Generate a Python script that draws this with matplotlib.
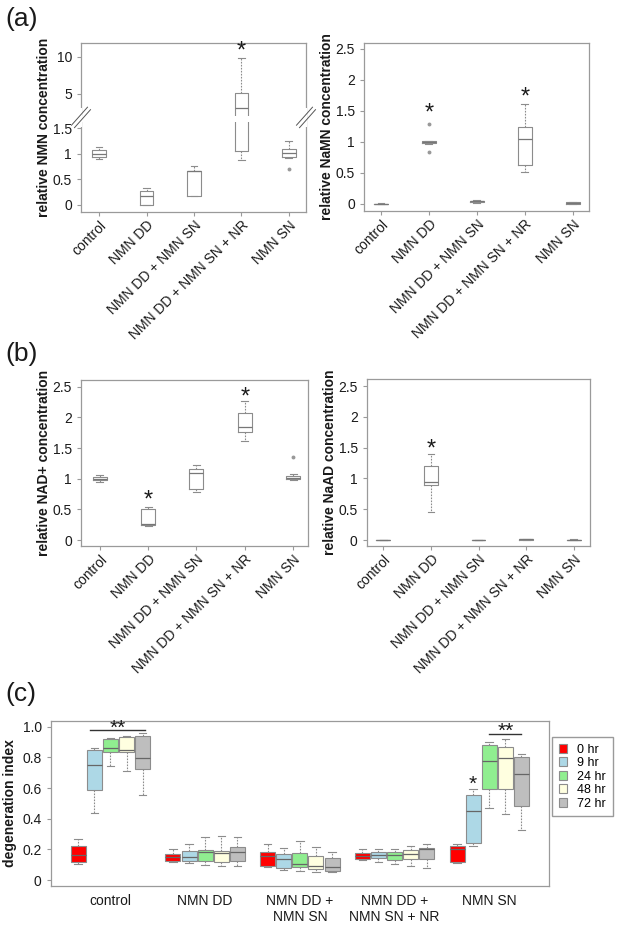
import numpy as np
import matplotlib
matplotlib.use('Agg')
import matplotlib.pyplot as plt
from matplotlib.patches import Patch, Rectangle

plt.rcParams['font.family'] = ['Liberation Sans', 'DejaVu Sans']

treatments = ['control', 'NMN DD', 'NMN DD + NMN SN', 'NMN DD + NMN SN + NR', 'NMN SN']

# five number summaries (whisker low, q1, median, q3, whisker high)
nmn_lo = [0.90, 0.00, 0.18, 0.88, 0.92]
nmn_q1 = [0.94, 0.00, 0.18, 1.05, 0.94]
nmn_med = [1.00, 0.18, 0.66, 3.07, 1.01]
nmn_q3 = [1.07, 0.28, 0.67, 5.10, 1.09]
nmn_hi = [1.13, 0.33, 0.76, 9.85, 1.24]
nmn_out = [[], [], [], [], [0.70]]
nmn_star = [4]
nmn_star_y = [10.8]

namn_lo = [0.00, 0.97, 0.02, 0.52, 0.00]
namn_q1 = [0.00, 0.98, 0.03, 0.62, 0.005]
namn_med = [0.00, 0.99, 0.04, 1.04, 0.015]
namn_q3 = [0.005, 1.01, 0.05, 1.24, 0.025]
namn_hi = [0.01, 1.02, 0.06, 1.61, 0.035]
namn_out = [[], [1.29, 0.84], [], [], []]
namn_star = [2, 4]
namn_star_y = [1.45, 1.71]

nad_lo = [0.95, 0.23, 0.79, 1.61, 0.98]
nad_q1 = [0.98, 0.245, 0.83, 1.77, 0.99]
nad_med = [1.00, 0.26, 1.10, 1.84, 1.02]
nad_q3 = [1.03, 0.51, 1.16, 2.08, 1.05]
nad_hi = [1.066, 0.54, 1.23, 2.26, 1.07]
nad_out = [[], [], [], [], [1.35]]
nad_star = [2, 4]
nad_star_y = [0.65, 2.33]

naad_lo = [0.0, 0.46, 0.0, 0.0, 0.0]
naad_q1 = [0.0, 0.90, 0.0, 0.005, 0.0]
naad_med = [0.0, 0.95, 0.0, 0.01, 0.002]
naad_q3 = [0.0, 1.21, 0.003, 0.015, 0.005]
naad_hi = [0.0, 1.40, 0.005, 0.02, 0.01]
naad_out = [[], [], [], [], []]
naad_star = [2]
naad_star_y = [1.47]

# panel (c): rows = hours, columns = groups
groups_c = ['control', 'NMN DD', 'NMN DD +\nNMN SN', 'NMN DD +\nNMN SN + NR', 'NMN SN']
hours = ['0 hr', '9 hr', '24 hr', '48 hr', '72 hr']
hour_colors = ['#ff0000', '#add8e6', '#90ee90', '#ffffe0', '#bebebe']
deg_lo = [[0.104, 0.117, 0.085, 0.130, 0.113],
          [0.440, 0.111, 0.063, 0.115, 0.222],
          [0.746, 0.100, 0.059, 0.102, 0.468],
          [0.711, 0.093, 0.054, 0.091, 0.429],
          [0.552, 0.091, 0.052, 0.080, 0.326]]
deg_q1 = [[0.120, 0.124, 0.091, 0.137, 0.115],
          [0.587, 0.126, 0.076, 0.141, 0.239],
          [0.835, 0.122, 0.083, 0.130, 0.594],
          [0.833, 0.120, 0.072, 0.135, 0.594],
          [0.722, 0.122, 0.059, 0.137, 0.483]]
deg_med = [[0.163, 0.152, 0.159, 0.159, 0.200],
           [0.750, 0.152, 0.135, 0.163, 0.448],
           [0.859, 0.180, 0.104, 0.160, 0.776],
           [0.848, 0.176, 0.093, 0.170, 0.794],
           [0.794, 0.180, 0.087, 0.200, 0.690]]
deg_q3 = [[0.222, 0.170, 0.183, 0.174, 0.224],
          [0.848, 0.187, 0.168, 0.185, 0.557],
          [0.920, 0.196, 0.174, 0.180, 0.881],
          [0.935, 0.187, 0.157, 0.194, 0.870],
          [0.939, 0.213, 0.141, 0.209, 0.804]]
deg_hi = [[0.267, 0.200, 0.233, 0.200, 0.237],
          [0.863, 0.233, 0.207, 0.200, 0.594],
          [0.928, 0.280, 0.252, 0.200, 0.898],
          [0.941, 0.285, 0.217, 0.220, 0.918],
          [0.961, 0.282, 0.185, 0.237, 0.824]]

EDGE = '#8c8c8c'
SPINE = '#9a9a9a'
TXT = '#1a1a1a'


def make_stats(lo, q1, med, q3, hi, out=None):
    res = []
    for i in range(len(lo)):
        res.append(dict(whislo=lo[i], q1=q1[i], med=med[i], q3=q3[i], whishi=hi[i],
                        fliers=out[i] if out is not None else []))
    return res


def style_axes(ax):
    for s in ax.spines.values():
        s.set_color(SPINE)
        s.set_linewidth(0.9)
    ax.tick_params(colors=SPINE, labelcolor=TXT, labelsize=10, length=3, width=0.8)


def box_panel(ax, stats, stars, star_y, ylabel, xlim):
    ax.bxp(stats, positions=range(1, 6), widths=0.29, showfliers=True,
           boxprops=dict(color=EDGE, lw=0.8),
           whiskerprops=dict(color=EDGE, lw=0.8, linestyle=(0, (1.5, 1.2))),
           capprops=dict(color=EDGE, lw=0.8),
           medianprops=dict(color='#777777', lw=0.9),
           flierprops=dict(marker='o', markersize=1.8, markerfacecolor='#999999',
                           markeredgecolor='#999999'))
    for p, y in zip(stars, star_y):
        ax.text(p, y, '*', ha='center', va='center', fontsize=17, color=TXT)
    ax.set_xlim(*xlim)
    ax.set_xticks(range(1, 6))
    ax.set_xticklabels(treatments, rotation=45, ha='right', rotation_mode='anchor')
    ax.set_ylabel(ylabel, fontsize=10, fontweight='bold', color=TXT, labelpad=1)
    style_axes(ax)
    ax.tick_params(axis='x', pad=1.5)


fig = plt.figure(figsize=(6.17, 9.34), dpi=100)
W, H = 617.0, 934.0


def px_axes(x0, y0, x1, y1):
    return fig.add_axes([x0 / W, 1 - y1 / H, (x1 - x0) / W, (y1 - y0) / H])


# ---- (a) left, broken axis ----
T, U5, K = 1.65, 2.168, 0.1445


def fwd(y):
    y = np.asarray(y, float)
    return np.where(y <= T, y, U5 + (y - 5) * K)


def inv(u):
    u = np.asarray(u, float)
    up = U5 + (T - 5) * K
    return np.where(u <= T, u, np.where(u < up, T, 5 + (u - U5) / K))


ax1 = px_axes(81, 43, 306, 212)
ax1.set_yscale('function', functions=(fwd, inv))
box_panel(ax1, make_stats(nmn_lo, nmn_q1, nmn_med, nmn_q3, nmn_hi, nmn_out),
          nmn_star, nmn_star_y, 'relative NMN concentration', (0.62, 5.36))
ax1.set_ylim(-0.137, 11.89)
ax1.set_yticks([0, 0.5, 1, 1.5, 5, 10])
ax1.set_yticklabels(['0', '0.5', '1', '1.5', '5', '10'])

flo, fhi = float(fwd(-0.137)), float(fwd(11.89))


def frac(f):
    return (f - flo) / (fhi - flo)


band0, band1 = frac(1.615), frac(1.744)
ax1.add_patch(Rectangle((0.0, band0), 1.0, band1 - band0, transform=ax1.transAxes,
                        facecolor='white', edgecolor='none', zorder=5, clip_on=False))
sp0, sp1 = frac(1.523), frac(1.895)
for xs in (0.0, 1.0):
    ax1.add_patch(Rectangle((xs - 0.006, sp0), 0.012, sp1 - sp0, transform=ax1.transAxes,
                            facecolor='white', edgecolor='none', zorder=5, clip_on=False))
yc = frac(1.71)
dx, dy = 8.0 / 225, 9.0 / 169
for xs in (0.0, 1.0):
    for off in (-1.5 / 225, 1.5 / 225):
        ax1.plot([xs - dx + off, xs + dx + off], [yc - dy - off * 1.1, yc + dy - off * 1.1],
                 transform=ax1.transAxes, color='#555555', lw=0.7, clip_on=False, zorder=6)

# ---- (a) right ----
ax2 = px_axes(364, 43, 589, 211)
box_panel(ax2, make_stats(namn_lo, namn_q1, namn_med, namn_q3, namn_hi, namn_out),
          namn_star, namn_star_y, 'relative NaMN concentration', (0.645, 5.34))
ax2.set_ylim(-0.113, 2.59)
ax2.set_yticks([0, 0.5, 1, 1.5, 2, 2.5])
ax2.set_yticklabels(['0', '0.5', '1', '1.5', '2', '2.5'])

# ---- (b) ----
ax3 = px_axes(81, 380, 308, 546)
box_panel(ax3, make_stats(nad_lo, nad_q1, nad_med, nad_q3, nad_hi, nad_out),
          nad_star, nad_star_y, 'relative NAD+ concentration', (0.61, 5.31))
ax3.set_ylim(-0.097, 2.61)
ax3.set_yticks([0, 0.5, 1, 1.5, 2, 2.5])
ax3.set_yticklabels(['0', '0.5', '1', '1.5', '2', '2.5'])

ax4 = px_axes(366.7, 379.3, 590, 546)
box_panel(ax4, make_stats(naad_lo, naad_q1, naad_med, naad_q3, naad_hi, naad_out),
          naad_star, naad_star_y, 'relative NaAD concentration', (0.65, 5.34))
ax4.set_ylim(-0.097, 2.61)
ax4.set_yticks([0, 0.5, 1, 1.5, 2, 2.5])
ax4.set_yticklabels(['0', '0.5', '1', '1.5', '2', '2.5'])

# ---- (c) ----
ax5 = px_axes(50.7, 720.7, 549.3, 886)
stride = 5.88
for h in range(len(hours)):
    pos = [g * stride + h for g in range(len(groups_c))]
    st = make_stats(deg_lo[h], deg_q1[h], deg_med[h], deg_q3[h], deg_hi[h])
    ax5.bxp(st, positions=pos, widths=0.93, patch_artist=True, showfliers=False,
            boxprops=dict(facecolor=hour_colors[h], edgecolor=EDGE, lw=0.8),
            whiskerprops=dict(color=EDGE, lw=0.8, linestyle=(0, (1.5, 1.2))),
            capprops=dict(color=EDGE, lw=0.8),
            medianprops=dict(color='#666666', lw=0.9))
ax5.set_xlim(-1.71, 29.25)
ax5.set_ylim(-0.039, 1.039)
ax5.set_xticks([g * stride + 2 for g in range(len(groups_c))])
ax5.set_xticklabels(groups_c, fontsize=10, linespacing=1.15, va='top')
ax5.set_yticks([0, 0.2, 0.4, 0.6, 0.8, 1.0])
ax5.set_yticklabels(['0', '0.2', '0.4', '0.6', '0.8', '1.0'])
style_axes(ax5)
ax5.tick_params(axis='x', length=0, pad=6)
ax5.set_ylabel('degeneration index', fontsize=10, fontweight='bold', color=TXT, labelpad=4)

# significance marks
ax5.plot([0 * stride + 1 - 0.25, 0 * stride + 4 + 0.15], [0.98, 0.98], color='#333333', lw=1.0)
ax5.text(0 * stride + 2.47, 0.992, '**', ha='center', va='center', fontsize=15, color=TXT)
ax5.plot([4 * stride + 2, 4 * stride + 4], [0.952, 0.952], color='#333333', lw=1.0)
ax5.text(4 * stride + 3, 0.972, '**', ha='center', va='center', fontsize=15, color=TXT)
ax5.text(4 * stride + 1, 0.625, '*', ha='center', va='center', fontsize=15, color=TXT)

handles = [Patch(facecolor=c, edgecolor=EDGE, lw=0.8) for c in hour_colors]
fig.legend(handles, hours, loc='upper left', bbox_to_anchor=(551.7 / W, 1 - 736.7 / H),
           fontsize=9, frameon=True, fancybox=False, edgecolor=SPINE, framealpha=1,
           handlelength=0.7, handleheight=0.7, handletextpad=0.8, labelspacing=0.12,
           borderpad=0.55, borderaxespad=0)

fig.text(5 / W, 1 - 19 / H, '(a)', fontsize=19, va='center', ha='left', color=TXT)
fig.text(5 / W, 1 - 354 / H, '(b)', fontsize=19, va='center', ha='left', color=TXT)
fig.text(5 / W, 1 - 694 / H, '(c)', fontsize=19, va='center', ha='left', color=TXT)

fig.savefig('out.png', dpi=100)
